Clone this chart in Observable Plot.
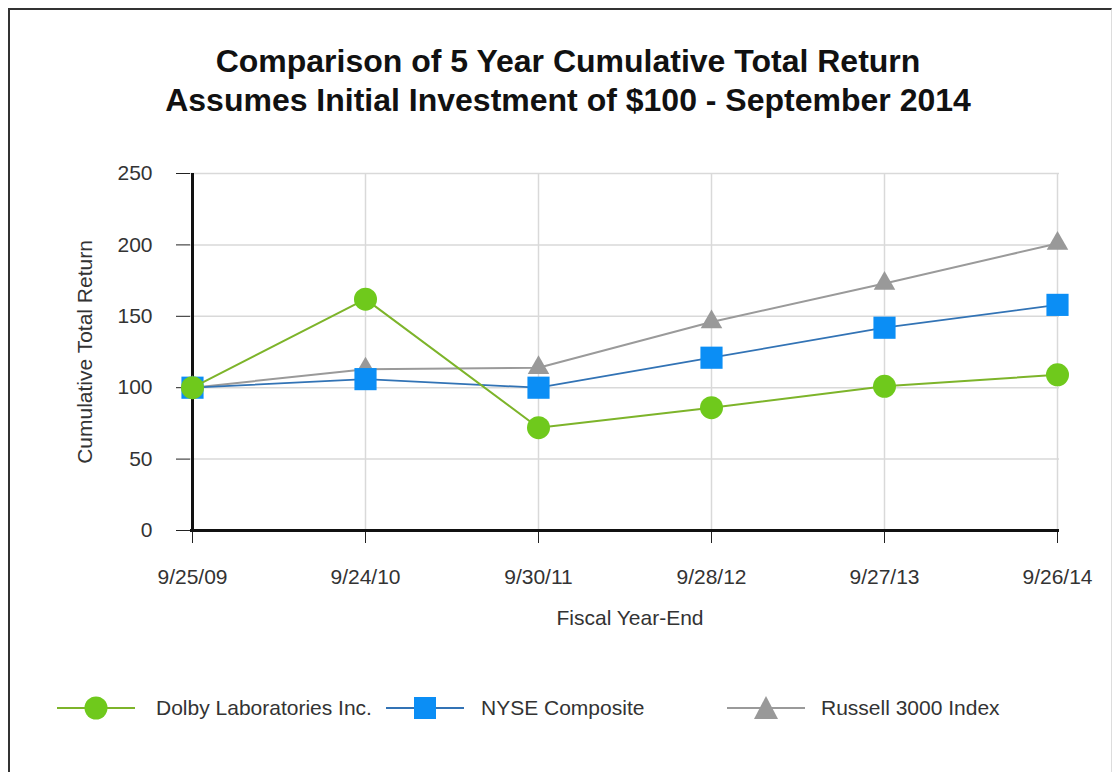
<!DOCTYPE html>
<html>
<head>
<meta charset="utf-8">
<script src="https://cdn.jsdelivr.net/npm/d3@7"></script>
<script src="https://cdn.jsdelivr.net/npm/@observablehq/plot@0.6"></script>
<style>
  html, body { margin:0; padding:0; background:#fff; }
  body { width:1116px; height:772px; overflow:hidden; position:relative; font-family:"Liberation Sans", Arial, sans-serif; color:#333; }
  #frame { position:absolute; left:8px; top:8px; width:1101px; height:800px; border-left:2px solid #333; border-top:2px solid #333; border-right:1px solid #ddd; }
  #title { position:absolute; left:0; top:42px; width:1136px; text-align:center; font-weight:bold; font-size:32px; line-height:39px; color:#111; }
  #chart { position:absolute; left:0; top:140px; }
  #ylabel { position:absolute; left:85px; top:352px; transform:translate(-50%,-50%) rotate(-90deg); font-size:21px; white-space:nowrap; color:#333; }
  #xlabel { position:absolute; left:630px; top:607px; transform:translateX(-50%); font-size:21px; line-height:21px; white-space:nowrap; color:#333; }
  .leg { position:absolute; top:693px; height:30px; font-size:21px; line-height:30px; white-space:nowrap; color:#333; }
</style>
</head>
<body>
<div id="frame"></div>
<div id="title">Comparison of 5 Year Cumulative Total Return<br>Assumes Initial Investment of $100 - September 2014</div>
<div id="chart"></div>
<div id="ylabel">Cumulative Total Return</div>
<div id="xlabel">Fiscal Year-End</div>
<div id="legend"></div>
<script>
const dates = ["9/25/09", "9/24/10", "9/30/11", "9/28/12", "9/27/13", "9/26/14"];
const dolby = [100, 162, 72, 86, 101, 109];
const nyse = [100, 106, 100, 121, 142, 158];
const russell = [100, 113, 114, 146, 173, 201];
const yTicks = [0, 50, 100, 150, 200, 250];
const seriesNames = ["Dolby Laboratories Inc.", "NYSE Composite", "Russell 3000 Index"];

const toRows = (vals) => dates.map((d, i) => ({date: d, value: vals[i]}));
const dolbyRows = toRows(dolby), nyseRows = toRows(nyse), russellRows = toRows(russell);

const plot = Plot.plot({
  width: 1116, height: 500,
  marginTop: 33, marginBottom: 110, marginLeft: 190, marginRight: 57,
  style: {fontFamily: "Liberation Sans, Arial, sans-serif", fontSize: "21px", color: "#333", background: "transparent"},
  x: {type: "point", domain: dates, padding: 0, label: null},
  y: {domain: [0, 250], label: null},
  marks: [
    Plot.gridY(yTicks, {stroke: "#d9d9d9", strokeOpacity: 1, strokeWidth: 1.5}),
    Plot.gridX(dates, {stroke: "#d9d9d9", strokeOpacity: 1, strokeWidth: 1.5}),
    Plot.axisY(yTicks, {tickSize: 14, tickPadding: 24, label: null, stroke: "#222"}),
    Plot.axisX(dates, {tickSize: 13, tickPadding: 26, label: null, stroke: "#222"}),
    Plot.ruleY([0], {stroke: "#111", strokeWidth: 3}),
    Plot.ruleX([dates[0]], {stroke: "#111", strokeWidth: 3}),
    Plot.line(russellRows, {x: "date", y: "value", stroke: "#9a9a9a", strokeWidth: 2}),
    Plot.dot(russellRows, {x: "date", y: "value", symbol: "triangle", r: 8, fill: "#999"}),
    Plot.line(nyseRows, {x: "date", y: "value", stroke: "#3273b5", strokeWidth: 1.8}),
    Plot.dot(nyseRows, {x: "date", y: "value", symbol: "square", r: 12.5, fill: "#0b8ef5"}),
    Plot.line(dolbyRows, {x: "date", y: "value", stroke: "#7db42a", strokeWidth: 2}),
    Plot.dot(dolbyRows, {x: "date", y: "value", symbol: "circle", r: 11.5, fill: "#6fc91c"})
  ]
});
document.getElementById("chart").appendChild(plot);

// Legend
const legendItems = [
  {name: seriesNames[0], line: "#7db42a", fill: "#6fc91c", shape: "circle", left: 57, text: 156},
  {name: seriesNames[1], line: "#3273b5", fill: "#0b8ef5", shape: "square", left: 386, text: 481},
  {name: seriesNames[2], line: "#9a9a9a", fill: "#999", shape: "triangle", left: 727, text: 821}
];
const legend = document.getElementById("legend");
for (const it of legendItems) {
  const ns = "http://www.w3.org/2000/svg";
  const svg = document.createElementNS(ns, "svg");
  svg.setAttribute("width", 78); svg.setAttribute("height", 30);
  svg.setAttribute("class", "leg");
  svg.style.left = it.left + "px";
  const ln = document.createElementNS(ns, "line");
  ln.setAttribute("x1", 0); ln.setAttribute("x2", 78); ln.setAttribute("y1", 15); ln.setAttribute("y2", 15);
  ln.setAttribute("stroke", it.line); ln.setAttribute("stroke-width", 2);
  svg.appendChild(ln);
  let sh;
  if (it.shape === "circle") {
    sh = document.createElementNS(ns, "circle");
    sh.setAttribute("cx", 39); sh.setAttribute("cy", 15); sh.setAttribute("r", 11.5);
  } else if (it.shape === "square") {
    sh = document.createElementNS(ns, "rect");
    sh.setAttribute("x", 28); sh.setAttribute("y", 4); sh.setAttribute("width", 22); sh.setAttribute("height", 22);
  } else {
    sh = document.createElementNS(ns, "path");
    sh.setAttribute("d", "M39,3L51,26L27,26Z");
  }
  sh.setAttribute("fill", it.fill);
  svg.appendChild(sh);
  legend.appendChild(svg);
  const tx = document.createElement("div");
  tx.className = "leg";
  tx.style.left = it.text + "px";
  tx.textContent = it.name;
  legend.appendChild(tx);
}
</script>
</body>
</html>
